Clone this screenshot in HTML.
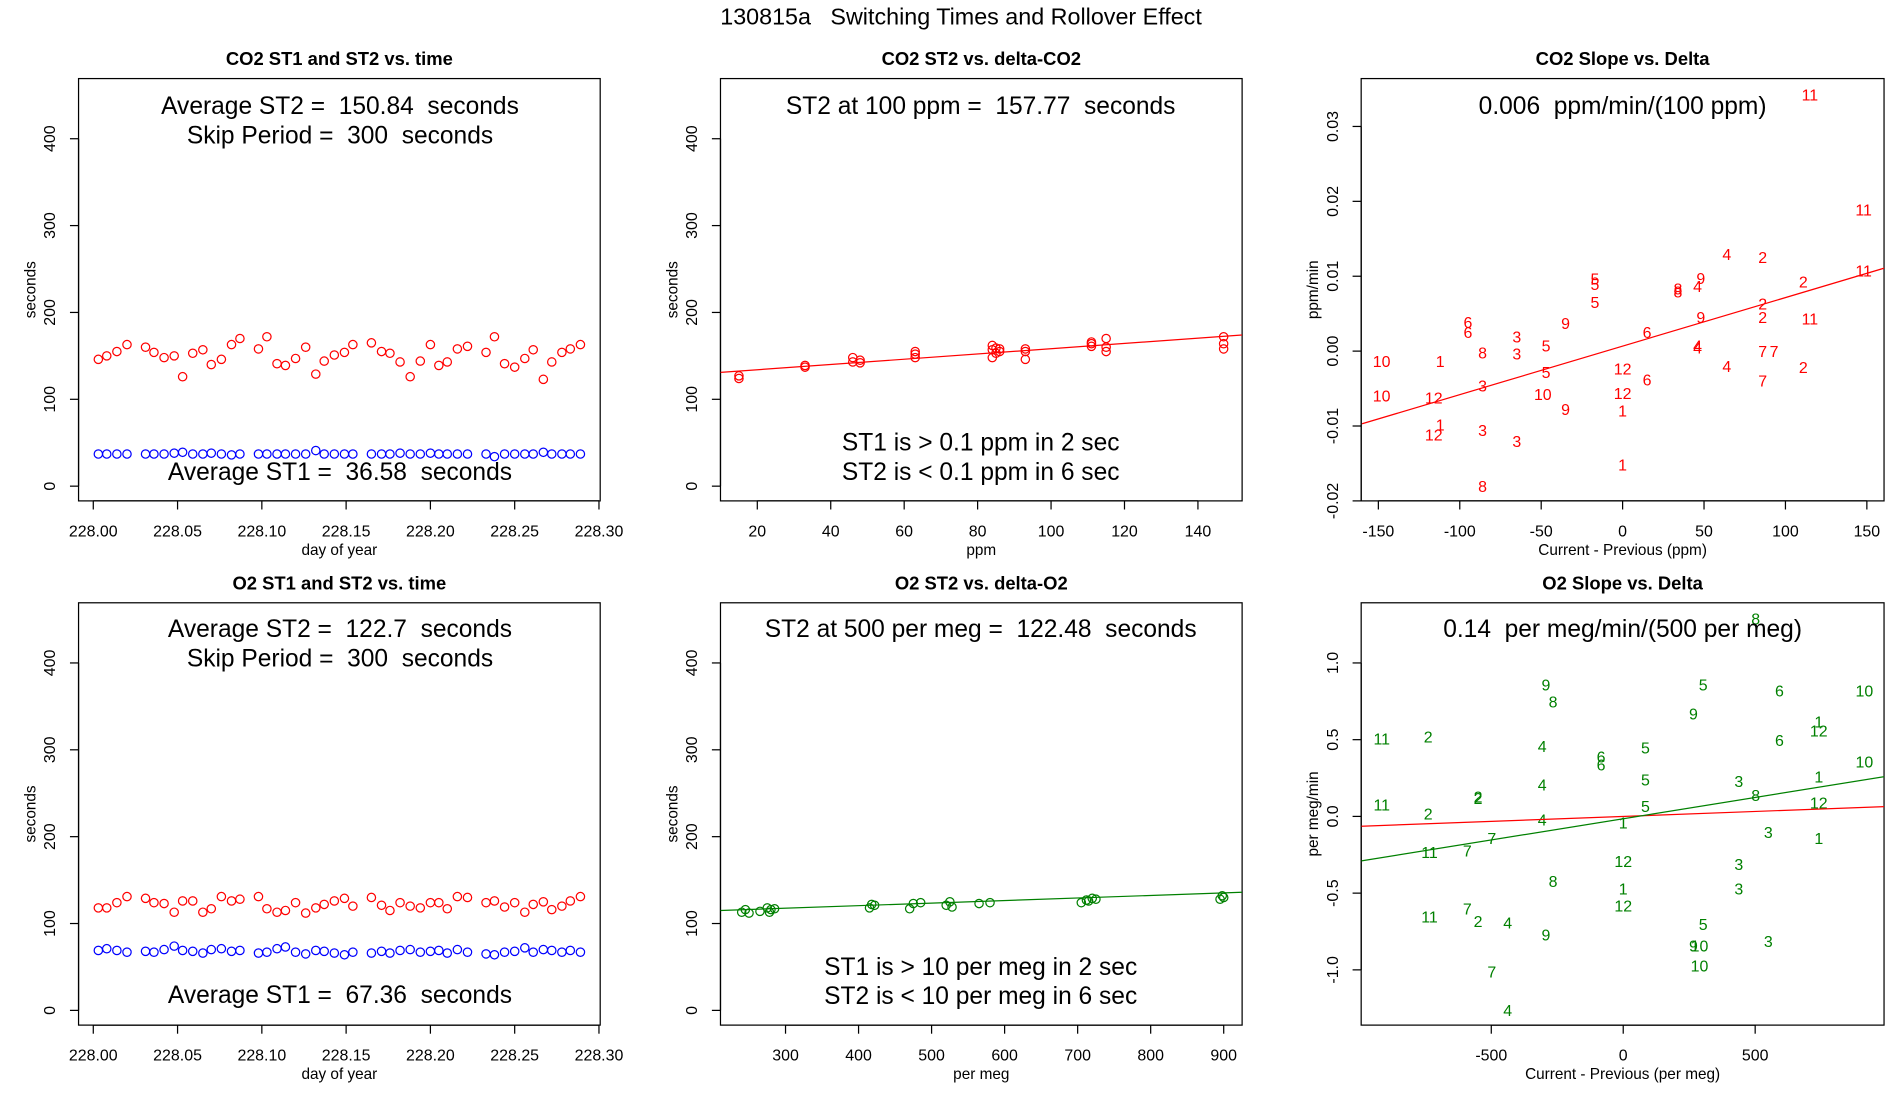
<!DOCTYPE html>
<html><head><meta charset="utf-8"><style>
html,body{margin:0;padding:0;background:#fff;}
svg{display:block;}
text{font-family:"Liberation Sans",sans-serif;white-space:pre;}
</style></head><body>
<svg id="chart" width="1900" height="1100" viewBox="0 0 1548 896" preserveAspectRatio="none" xmlns="http://www.w3.org/2000/svg" xml:space="preserve">
<rect x="0" y="0" width="1548" height="896" fill="#fff"/>
<text x="783" y="20" font-size="19" text-anchor="middle">130815a   Switching Times and Rollover Effect</text>
</svg>
<script>
// ---- data ----
const days = [228.003,228.008,228.014,228.020,228.031,228.036,228.042,228.048,228.053,228.059,228.065,228.070,228.076,228.082,228.087,228.098,228.103,228.109,228.114,228.120,228.126,228.132,228.137,228.143,228.149,228.154,228.165,228.171,228.176,228.182,228.188,228.194,228.200,228.205,228.210,228.216,228.222,228.233,228.238,228.244,228.250,228.256,228.261,228.267,228.272,228.278,228.283,228.289];
const co2St2 = [146,150,155,163,160,154,148,150,126,153,157,140,146,163,170,158,172,141,139,147,160,129,144,151,154,163,165,155,153,143,126,144,163,139,143,158,161,154,172,141,137,147,157,123,143,154,158,163];
const co2St1 = [37,37,37,37,37,37,37,38,39,37,37,38,37,36,37,37,37,37,37,37,37,41,37,37,37,37,37,37,37,38,37,37,38,37,37,37,37,37,34,37,37,37,37,39,37,37,37,37];
const o2St2 = [118,118,124,131,129,124,123,113,126,126,113,117,131,126,128,131,117,113,115,124,112,118,122,126,129,120,130,121,115,124,120,118,124,124,117,131,130,124,126,119,124,113,122,125,116,120,126,131];
const o2St1 = [69,71,69,67,68,67,70,74,69,68,66,70,71,68,69,66,67,71,73,67,65,69,68,66,64,67,66,68,66,69,70,67,68,69,66,70,67,65,64,67,68,72,67,70,69,67,69,67];
const ppmDelta = [15,15,33,33,46,46,48,48,63,63,63,84,84,84,85,85,86,86,93,93,93,111,111,111,115,115,115,147,147,147];
const ppmSt2 = [124,127,137,139,143,148,142,145,148,152,155,148,157,162,153,159,155,158,146,155,158,161,164,166,155,160,170,158,164,172];
const megDelta = [240,245,250,265,275,278,280,285,415,418,422,470,475,485,520,525,528,565,580,705,712,715,720,725,895,898,900];
const megSt2 = [113,116,112,114,118,113,116,117,118,122,121,117,123,124,121,125,119,123,124,124,127,126,129,128,128,132,130];
const co2Labels = ["11","11","11","11","2","2","2","2","2","4","4","4","4","4","9","9","9","9","8","8","8","8","5","5","5","5","5","6","6","6","6","3","3","3","3","3","1","1","1","1","10","10","10","12","12","12","12","7","7","7"];
const co2DX = [115,148,148,115,86,111,86,86,111,64,46,46,46,64,48,48,-35,-35,34,34,-86,-86,-17,-17,-17,-47,-47,-95,-95,15,15,-65,-65,-86,-86,-65,-112,-112,0,0,-148,-148,-49,0,0,-116,-116,86,93,86];
const co2Slope = [.0343,.0189,.0108,.0044,.0126,.0093,.0064,.0046,-.0021,.0130,.0087,.0008,.0005,-.0020,.0098,.0046,.0038,-.0077,.0084,.0080,-.0002,-.0180,.0097,.0090,.0066,.0008,-.0028,.0039,.0026,.0026,-.0038,.0020,-.0003,-.0046,-.0105,-.0120,-.0013,-.0098,-.0079,-.0151,-.0013,-.0059,-.0057,-.0023,-.0056,-.0062,-.0111,0,0,-.0039];
const o2Labels = ["8","8","8","8","10","10","10","10","9","9","9","9","5","5","5","5","5","6","6","6","6","1","1","1","1","1","12","12","12","12","11","11","11","11","2","2","2","2","2","4","4","4","4","4","3","3","3","3","3","7","7","7","7"];
const o2DX = [502,-266,502,-266,914,914,289,289,-293,266,-293,266,303,84,84,84,303,592,592,-84,-84,741,741,0,0,741,741,741,0,0,-915,-915,-734,-734,-739,-739,-550,-550,-550,-307,-307,-307,-438,-438,438,550,438,438,550,-498,-591,-591,-498];
const o2Slope = [1.29,.75,.14,-.42,.82,.36,-.84,-.97,.86,.67,-.77,-.84,.86,.45,.24,.07,-.70,.82,.50,.39,.34,.62,.26,-.04,-.47,-.14,.56,.09,-.29,-.58,.51,.08,-.23,-.65,.52,.02,.13,.12,-.68,.46,.21,-.02,-.69,-1.26,.23,-.10,-.31,-.47,-.81,-.14,-.22,-.60,-1.01];
const co2FitLine = [-160,-0.0097,161,0.0111];
const o2RedLine = [-992,-0.064,992,0.064];
const o2GreenLine = [-992,-0.29,992,0.26];
const ppmLine = [10,131,152,174];
const megLine = [211,115,925,136];
const timeTicks = ["228.00","228.05","228.10","228.15","228.20","228.25","228.30"];
const secTicks = [0,100,200,300,400];

// ---- helpers ----
const NS="http://www.w3.org/2000/svg";
const svg=document.getElementById('chart');
function el(tag,attrs,parent){const e=document.createElementNS(NS,tag);for(const k in attrs)e.setAttribute(k,attrs[k]);(parent||svg).appendChild(e);return e;}
function txt(s,attrs,parent){const e=el('text',attrs,parent);e.textContent=s;return e;}
function lin(d0,p0,d1,p1){return v=>p0+(v-d0)*(p1-p0)/(d1-d0);}

function panel(name,box,title,fx,fy,xticks,yticks,xlab,ylab){
  const g=el('g',{});
  
  
  const r=el('rect',{x:box[0],y:box[1],width:box[2]-box[0],height:box[3]-box[1],fill:'none',stroke:'#000','stroke-width':1},g);
  
  
  const t=txt(title,{x:(box[0]+box[2])/2,y:box[1]-11,'font-size':15,'font-weight':'bold','text-anchor':'middle'},g);
  
  
  const xa=el('g',{},g);
  
  
  const xs=xticks.map(v=>fx(+v));
  el('line',{x1:xs[0],x2:xs[xs.length-1],y1:box[3],y2:box[3],stroke:'#000'},xa);
  xticks.forEach(v=>{const x=fx(+v);el('line',{x1:x,x2:x,y1:box[3],y2:box[3]+7,stroke:'#000'},xa);
    const l=txt(String(v),{x:x,y:box[3]+29,'font-size':13,'text-anchor':'middle'},xa);
    
    });
  const xl=txt(xlab,{x:(box[0]+box[2])/2,y:box[3]+44,'font-size':12.5,'text-anchor':'middle'},g);
  
  
  const ya=el('g',{},g);
  
  
  const ys=yticks.map(v=>fy(+v));
  el('line',{x1:box[0],x2:box[0],y1:ys[0],y2:ys[ys.length-1],stroke:'#000'},ya);
  yticks.forEach(v=>{const y=fy(+v);el('line',{x1:box[0],x2:box[0]-7,y1:y,y2:y,stroke:'#000'},ya);
    const l=txt(String(v),{x:box[0]-19,y:y,'font-size':13,'text-anchor':'middle',transform:`rotate(-90 ${box[0]-19} ${y})`},ya);
    
    });
  const cy=(box[1]+box[3])/2, yx=box[0]-35;
  const yl=txt(ylab,{x:yx,y:cy,'font-size':12.5,'text-anchor':'middle',transform:`rotate(-90 ${yx} ${cy})`},g);
  
  
  return g;
}
function circles(g,xs,ys,fx,fy,color,name){xs.forEach((x,i)=>{const c=el('circle',{cx:fx(x),cy:fy(ys[i]),r:3.4,fill:'none',stroke:color,'stroke-width':1},g);
  
  });}
function labels(g,labs,xs,ys,fx,fy,color,name){labs.forEach((s,i)=>{const t=txt(s,{x:fx(xs[i]),y:fy(ys[i])+5,'font-size':13,'text-anchor':'middle',fill:color},g);
  
  });}
function fitline(g,L,fx,fy,color,box,name){const l=el('line',{x1:fx(L[0]),y1:fy(L[1]),x2:fx(L[2]),y2:fy(L[3]),stroke:color,'stroke-width':1},g);
  
  }
function note(g,s,x,y,name){const t=txt(s,{x:x,y:y,'font-size':20,'text-anchor':'middle'},g);
  
  }

// clip
const defs=el('defs',{});
[[64,64,489,408],[587,64,1012,408],[1109,64,1535,408],[64,491,489,835],[587,491,1012,835],[1109,491,1535,835]].forEach((b,i)=>{
  const cp=el('clipPath',{id:'cp'+i},defs);el('rect',{x:b[0],y:b[1],width:b[2]-b[0],height:b[3]-b[1]},cp);});

// Panel 1
{const box=[64,64,489,408];const fx=lin(228,76,228.3,488);const fy=lin(0,396,400,113);
 const g=panel('co2-time-panel',box,'CO2 ST1 and ST2 vs. time',fx,fy,timeTicks,secTicks,'day of year','seconds');
 circles(g,days,co2St2,fx,fy,'#ff0000','co2-st2-point');circles(g,days,co2St1,fx,fy,'#0000ff','co2-st1-point');
 note(g,'Average ST2 =  150.84  seconds',277,93,'avg-st2-text');note(g,'Skip Period =  300  seconds',277,117,'skip-period-text');note(g,'Average ST1 =  36.58  seconds',277,391,'avg-st1-text');}
// Panel 4
{const box=[64,491,489,835];const fx=lin(228,76,228.3,488);const fy=lin(0,823,400,540);
 const g=panel('o2-time-panel',box,'O2 ST1 and ST2 vs. time',fx,fy,timeTicks,secTicks,'day of year','seconds');
 circles(g,days,o2St2,fx,fy,'#ff0000','o2-st2-point');circles(g,days,o2St1,fx,fy,'#0000ff','o2-st1-point');
 note(g,'Average ST2 =  122.7  seconds',277,519,'avg-st2-text');note(g,'Skip Period =  300  seconds',277,543,'skip-period-text');note(g,'Average ST1 =  67.36  seconds',277,817,'avg-st1-text');}
// Panel 2
{const box=[587,64,1012,408];const fx=lin(20,617,140,976);const fy=lin(0,396,400,113);
 const g=panel('co2-st2-delta-panel',box,'CO2 ST2 vs. delta-CO2',fx,fy,[20,40,60,80,100,120,140],secTicks,'ppm','seconds');
 const c=el('g',{'clip-path':'url(#cp1)'},g);
 circles(c,ppmDelta,ppmSt2,fx,fy,'#ff0000','ppm-point');fitline(c,ppmLine,fx,fy,'#ff0000',box,'ppm-fit-line');
 note(g,'ST2 at 100 ppm =  157.77  seconds',799,93,'st2-100ppm-text');note(g,'ST1 is > 0.1 ppm in 2 sec',799,367,'st1-note');note(g,'ST2 is < 0.1 ppm in 6 sec',799,391,'st2-note');}
// Panel 5
{const box=[587,491,1012,835];const fx=lin(300,640,900,997);const fy=lin(0,823,400,540);
 const g=panel('o2-st2-delta-panel',box,'O2 ST2 vs. delta-O2',fx,fy,[300,400,500,600,700,800,900],secTicks,'per meg','seconds');
 const c=el('g',{'clip-path':'url(#cp4)'},g);
 circles(c,megDelta,megSt2,fx,fy,'#008000','permeg-point');fitline(c,megLine,fx,fy,'#008000',box,'permeg-fit-line');
 note(g,'ST2 at 500 per meg =  122.48  seconds',799,519,'st2-500permeg-text');note(g,'ST1 is > 10 per meg in 2 sec',799,794,'st1-note');note(g,'ST2 is < 10 per meg in 6 sec',799,818,'st2-note');}
// Panel 3
{const box=[1109,64,1535,408];const fx=lin(-150,1123,150,1521);const fy=lin(0,286,0.03,103);
 const g=panel('co2-slope-panel',box,'CO2 Slope vs. Delta',fx,fy,[-150,-100,-50,0,50,100,150],['-0.02','-0.01','0.00','0.01','0.02','0.03'],'Current - Previous (ppm)','ppm/min');
 const c=el('g',{'clip-path':'url(#cp2)'},g);
 labels(c,co2Labels,co2DX,co2Slope,fx,fy,'#ff0000','co2-slope-label');fitline(c,co2FitLine,fx,fy,'#ff0000',box,'co2-slope-fit');
 note(g,'0.006  ppm/min/(100 ppm)',1322,93,'co2-slope-text');}
// Panel 6
{const box=[1109,491,1535,835];const fx=lin(-500,1215,500,1430);const fy=lin(0,665,1,540);
 const g=panel('o2-slope-panel',box,'O2 Slope vs. Delta',fx,fy,[-500,0,500],['-1.0','-0.5','0.0','0.5','1.0'],'Current - Previous (per meg)','per meg/min');
 const c=el('g',{'clip-path':'url(#cp5)'},g);
 labels(c,o2Labels,o2DX,o2Slope,fx,fy,'#008000','o2-slope-label');
 fitline(c,o2RedLine,fx,fy,'#ff0000',box,'o2-red-fit');fitline(c,o2GreenLine,fx,fy,'#008000',box,'o2-green-fit');
 note(g,'0.14  per meg/min/(500 per meg)',1322,519,'o2-slope-text');}
</script>
</body></html>
